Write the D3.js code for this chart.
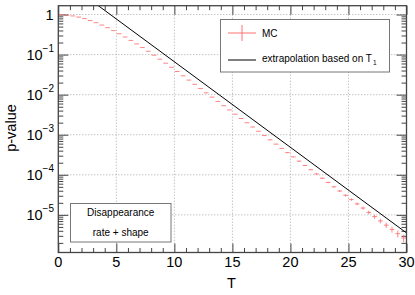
<!DOCTYPE html>
<html>
<head>
<meta charset="utf-8">
<script src="https://cdn.jsdelivr.net/npm/d3@7/dist/d3.min.js"></script>
<style>
html,body{margin:0;padding:0;background:#fff;}
svg{display:block;font-family:"Liberation Sans",Arial,Helvetica,sans-serif;}
</style>
</head>
<body>
<svg id="chart" width="415" height="295"></svg>
<script>
// ---- data ----
const mcT = [0.25,0.75,1.25,1.75,2.25,2.75,3.25,3.75,4.25,4.75,5.25,5.75,6.25,6.75,7.25,7.75,8.25,8.75,9.25,9.75,
  10.25,10.75,11.25,11.75,12.25,12.75,13.25,13.75,14.25,14.75,15.25,15.75,16.25,16.75,17.25,17.75,18.25,18.75,19.25,19.75,
  20.25,20.75,21.25,21.75,22.25,22.75,23.25,23.75,24.25,24.75,25.25,25.75,26.25,26.75,27.25,27.75,28.25,28.75,29.25,29.75];
const mcP = [0.986,0.964,0.923,0.863,0.791,0.708,0.625,0.546,0.469,0.397,
  0.332,0.275,0.226,0.185,0.150,0.121,0.0966,0.0769,0.0610,0.0481,
  0.0378,0.0295,0.0231,0.0181,0.0142,0.0111,8.67e-3,6.78e-3,5.31e-3,4.15e-3,
  3.25e-3,2.54e-3,1.99e-3,1.56e-3,1.22e-3,9.53e-4,7.46e-4,5.83e-4,4.57e-4,3.57e-4,
  2.80e-4,2.19e-4,1.71e-4,1.34e-4,1.05e-4,8.20e-5,6.43e-5,5.02e-5,3.94e-5,3.08e-5,
  2.41e-5,1.88e-5,1.48e-5,1.15e-5,9.04e-6,7.06e-6,5.53e-6,4.33e-6,3.39e-6,2.65e-6];
const mcRelErr = [0.0004,0.0004,0.0004,0.0004,0.0004,0.0004,0.0004,0.0005,0.0005,0.0006,
  0.0006,0.0007,0.0007,0.0008,0.0009,0.001,0.0011,0.0013,0.0014,0.0016,
  0.0018,0.002,0.0023,0.0026,0.0029,0.0033,0.0038,0.0043,0.0048,0.0055,
  0.0062,0.0069,0.0078,0.0089,0.01,0.0113,0.0128,0.0145,0.0164,0.0186,
  0.021,0.0237,0.0267,0.0302,0.0342,0.0386,0.0437,0.0494,0.0558,0.0631,
  0.0713,0.0807,0.091,0.1032,0.1164,0.1317,0.1488,0.1682,0.1901,0.215];
const binHalfWidth = 0.2;
const extrapT = [0, 30];
const extrapP = [9.06, 3.54e-6];
const xTicksMajor = [0,5,10,15,20,25,30];
const xTickLabels = ["0","5","10","15","20","25","30"];
const yDecades = [0,-1,-2,-3,-4,-5];
const yTickLabels = ["1","10","10","10","10","10"];
const yTickExp = ["","\u22121","\u22122","\u22123","\u22124","\u22125"];
const legendLabels = ["MC","extrapolation based on T"];
const textBoxLines = ["Disappearance","rate + shape"];
const xTitle = "T", yTitle = "p-value";

// ---- layout ----
const L = 58.3, R = 406.5, T0 = 5.7, B = 252.5;
const svg = d3.select("#chart");
const x = d3.scaleLinear().domain([0,30]).range([L,R]);
const y = d3.scaleLog().domain([1.15e-6,1.66]).range([B,T0]);

svg.append("defs").append("clipPath").attr("id","clip")
  .append("rect").attr("x",L).attr("y",T0).attr("width",R-L).attr("height",B-T0);

// grid
const grid = svg.append("g").attr("stroke","#aaa").attr("stroke-width",1).attr("stroke-dasharray","1,2");
xTicksMajor.filter(v=>v>0&&v<30).forEach(v=>{
  grid.append("line").attr("x1",x(v)).attr("x2",x(v)).attr("y1",T0).attr("y2",B);
});
yDecades.forEach(d=>{
  grid.append("line").attr("x1",L).attr("x2",R).attr("y1",y(Math.pow(10,d))).attr("y2",y(Math.pow(10,d)));
});

const yMinor = [];
for (let d=-6; d<=0; d++) for (let m=2;m<=9;m++){ const v=m*Math.pow(10,d); if(v>=1.15e-6 && v<=1.66) yMinor.push(v); }
const yMajor = yDecades.map(d=>Math.pow(10,d));
const xMinor = d3.range(0,31).filter(v=>v%5!==0);

const axCol = "#444";
function styleAxis(g){ g.select(".domain").remove(); g.selectAll("line").attr("stroke",axCol).attr("stroke-width",1); g.selectAll("text").remove(); }

svg.append("g").attr("transform",`translate(0,${B})`).call(d3.axisBottom(x).tickValues(xTicksMajor).tickSize(-9).tickFormat("")).call(styleAxis);
svg.append("g").attr("transform",`translate(0,${B})`).call(d3.axisBottom(x).tickValues(xMinor).tickSize(-4.5).tickFormat("")).call(styleAxis);
svg.append("g").attr("transform",`translate(0,${T0})`).call(d3.axisTop(x).tickValues(xTicksMajor).tickSize(-9).tickFormat("")).call(styleAxis);
svg.append("g").attr("transform",`translate(0,${T0})`).call(d3.axisTop(x).tickValues(xMinor).tickSize(-4.5).tickFormat("")).call(styleAxis);
svg.append("g").attr("transform",`translate(${L},0)`).call(d3.axisLeft(y).tickValues(yMajor).tickSize(-10).tickFormat("")).call(styleAxis);
svg.append("g").attr("transform",`translate(${L},0)`).call(d3.axisLeft(y).tickValues(yMinor).tickSize(-5).tickFormat("")).call(styleAxis);
svg.append("g").attr("transform",`translate(${R},0)`).call(d3.axisRight(y).tickValues(yMajor).tickSize(-10).tickFormat("")).call(styleAxis);
svg.append("g").attr("transform",`translate(${R},0)`).call(d3.axisRight(y).tickValues(yMinor).tickSize(-5).tickFormat("")).call(styleAxis);

// MC points
const mcCol = "#ff7070";
const pts = svg.append("g").attr("clip-path","url(#clip)").attr("stroke",mcCol).attr("stroke-width",1).attr("stroke-opacity",0.85);
mcT.forEach((t,i)=>{
  const p = mcP[i], e = mcRelErr[i]*p;
  pts.append("line").attr("x1",x(t-binHalfWidth)).attr("x2",x(t+binHalfWidth)).attr("y1",y(p)).attr("y2",y(p));
  pts.append("line").attr("x1",x(t)).attr("x2",x(t)).attr("y1",y(p+e)).attr("y2",y(Math.max(p-e,1e-9)));
});

// extrapolation line
svg.append("g").attr("clip-path","url(#clip)").append("path")
  .datum(extrapT.map((t,i)=>[t,extrapP[i]]))
  .attr("d",d3.line().x(d=>x(d[0])).y(d=>y(d[1])))
  .attr("fill","none").attr("stroke","#000").attr("stroke-width",1);

// frame
svg.append("rect").attr("x",L).attr("y",T0).attr("width",R-L).attr("height",B-T0)
  .attr("fill","none").attr("stroke",axCol).attr("stroke-width",1.3);

// x labels
xTicksMajor.forEach((v,i)=>{
  svg.append("text").attr("x",x(v)).attr("y",267.3).attr("text-anchor","middle")
    .attr("font-size",14.5).attr("fill","#000").text(xTickLabels[i]);
});
// y labels
yDecades.forEach((d,i)=>{
  const yy = y(Math.pow(10,d));
  const t = svg.append("text").attr("x",54).attr("y",yy+5.5).attr("text-anchor","end").attr("fill","#000");
  if (d===0){ t.attr("x",53.5).attr("font-size",14.5).text(yTickLabels[i]); }
  else {
    t.append("tspan").attr("font-size",14.5).text(yTickLabels[i]);
    t.append("tspan").attr("font-size",10).attr("dy",-8.5).text(yTickExp[i]);
  }
});
// axis titles
svg.append("text").attr("x",231.5).attr("y",288).attr("text-anchor","middle").attr("font-size",14.5).text(xTitle);
svg.append("text").attr("transform","translate(16,128) rotate(-90)").attr("text-anchor","middle").attr("font-size",14.5).text(yTitle);

// legend
const lg = svg.append("g");
lg.append("rect").attr("x",220.5).attr("y",19.5).attr("width",169).attr("height",52.5)
  .attr("fill","#fff").attr("stroke","#777").attr("stroke-width",1);
lg.append("line").attr("x1",228).attr("x2",256).attr("y1",33).attr("y2",33).attr("stroke",mcCol);
lg.append("line").attr("x1",242).attr("x2",242).attr("y1",25).attr("y2",41).attr("stroke",mcCol);
lg.append("text").attr("x",262).attr("y",36.5).attr("font-size",10).text(legendLabels[0]);
lg.append("line").attr("x1",228).attr("x2",256).attr("y1",60).attr("y2",60).attr("stroke","#000");
const lt = lg.append("text").attr("x",262).attr("y",61.5).attr("font-size",10);
lt.append("tspan").text(legendLabels[1]);
lt.append("tspan").attr("font-size",6.5).attr("dy",3).attr("dx",1).text("1");

// text box
const tb = svg.append("g");
tb.append("rect").attr("x",70.5).attr("y",203.5).attr("width",100.5).attr("height",38.5)
  .attr("fill","#fff").attr("stroke","#777").attr("stroke-width",1);
textBoxLines.forEach((s,i)=>{
  tb.append("text").attr("x",120.7).attr("y",216.3+i*19.6).attr("text-anchor","middle").attr("font-size",10).text(s);
});
</script>
</body>
</html>
